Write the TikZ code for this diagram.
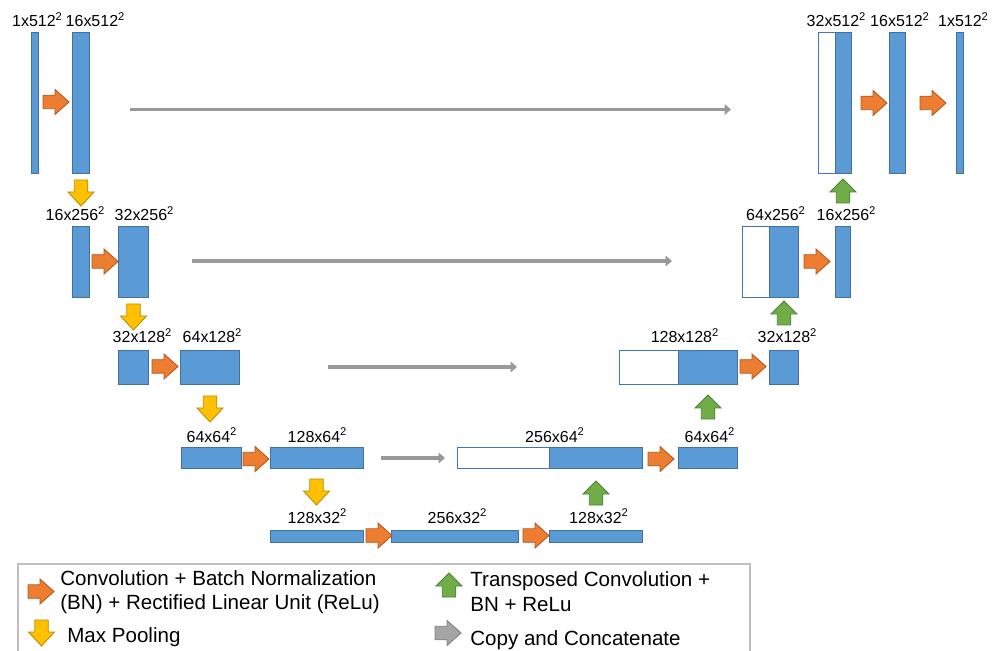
\documentclass[tikz,border=0pt]{standalone}
\usepackage{fontspec}
\setmainfont{Liberation Sans}
\usetikzlibrary{fit,arrows.meta}
\definecolor{blkfill}{HTML}{5B9BD5}
\definecolor{blkdraw}{HTML}{41719C}
\definecolor{catdraw}{HTML}{4472C4}
\definecolor{convfill}{HTML}{ED7D31}
\definecolor{convdraw}{HTML}{AE5A21}
\definecolor{poolfill}{HTML}{FFC000}
\definecolor{pooldraw}{HTML}{BC8C00}
\definecolor{upfill}{HTML}{70AD47}
\definecolor{updraw}{HTML}{507E32}
\definecolor{copyfill}{HTML}{A5A5A5}
\definecolor{copydraw}{HTML}{7F7F7F}
\definecolor{copymid}{HTML}{999999}
\definecolor{legdraw}{HTML}{BFBFBF}
\begin{document}
\begin{tikzpicture}[x=0.02cm,y=-0.02cm,
  blk/.style={draw=blkdraw,fill=blkfill,line width=0.5pt,inner sep=0pt},
  cat/.style={draw=catdraw,fill=white,line width=0.45pt,inner sep=0pt},
  lbl/.style={font=\fontsize{9.1}{11}\selectfont,anchor=base,inner sep=0pt},
  legtxt/.style={font=\fontsize{11.7}{13.7}\selectfont,anchor=base west,inner sep=0pt},
  convA/.style={fill=convfill,draw=convdraw,line width=0.5pt},
  poolA/.style={fill=poolfill,draw=pooldraw,line width=0.5pt},
  upA/.style={fill=upfill,draw=updraw,line width=0.5pt},
  copyA/.style={fill=copyfill,draw=copydraw,line width=0.5pt},
  copyline/.style={draw=copymid,line width=2.2pt,-{Triangle[length=3.6pt,width=6pt]}},
  legbox/.style={draw=legdraw,line width=0.7pt},
  rarr/.pic={\draw[#1] (0,-6.75)--(12,-6.75)--(12,-12.5)--(26,0)--(12,12.5)--(12,6.75)--(0,6.75)--cycle;},
  darr/.pic={\draw[#1] (-6.75,0)--(-6.75,12)--(-13,12)--(0,26)--(13,12)--(6.75,12)--(6.75,0)--cycle;},
  uarr/.pic={\draw[#1] (-6.75,0)--(-6.75,-11)--(-13,-11)--(0,-24)--(13,-11)--(6.75,-11)--(6.75,0)--cycle;}
]
\useasboundingbox (0,0) rectangle (1000,651);

% ---------- blocks ----------
% row 1
\node[blk,fit={(31,32)(38,173)}] (r1a) {};
\node[blk,fit={(72,32)(89,173)}] (r1b) {};
\node[cat,fit={(818,32)(835,173)}] (r1cw) {};
\node[blk,fit={(835,32)(851,173)}] (r1cb) {};
\node[blk,fit={(889,32)(905,173)}] (r1d) {};
\node[blk,fit={(956,32)(963,173)}] (r1e) {};
% row 2
\node[blk,fit={(72,226)(89,297)}] (r2a) {};
\node[blk,fit={(118,226)(148,297)}] (r2b) {};
\node[cat,fit={(742,226)(769,297)}] (r2cw) {};
\node[blk,fit={(769,226)(798,297)}] (r2cb) {};
\node[blk,fit={(835,226)(850,297)}] (r2d) {};
% row 3
\node[blk,fit={(118,350)(148,384)}] (r3a) {};
\node[blk,fit={(180,350)(239,384)}] (r3b) {};
\node[cat,fit={(619,350)(678,384)}] (r3cw) {};
\node[blk,fit={(678,350)(737,384)}] (r3cb) {};
\node[blk,fit={(769,350)(798,384)}] (r3d) {};
% row 4
\node[blk,fit={(181,447)(241,468)}] (r4a) {};
\node[blk,fit={(270,447)(363,468)}] (r4b) {};
\node[cat,fit={(457,447)(549,468)}] (r4cw) {};
\node[blk,fit={(549,447)(642,468)}] (r4cb) {};
\node[blk,fit={(678,447)(737,468)}] (r4d) {};
% row 5
\node[blk,fit={(270,530)(363,542)}] (r5a) {};
\node[blk,fit={(391,530)(518,542)}] (r5b) {};
\node[blk,fit={(549,530)(642,542)}] (r5c) {};

% ---------- labels ----------
\node[lbl] (l1a) at (37.5,27) {1x512\textsuperscript{2}};
\node[lbl] (l1b) at (95.5,27) {16x512\textsuperscript{2}};
\node[lbl] (l1c) at (836.5,27) {32x512\textsuperscript{2}};
\node[lbl] (l1d) at (900,27) {16x512\textsuperscript{2}};
\node[lbl] (l1e) at (963.5,27) {1x512\textsuperscript{2}};
\node[lbl] (l2a) at (75.5,221) {16x256\textsuperscript{2}};
\node[lbl] (l2b) at (144.5,221) {32x256\textsuperscript{2}};
\node[lbl] (l2c) at (776,221) {64x256\textsuperscript{2}};
\node[lbl] (l2d) at (846.5,221) {16x256\textsuperscript{2}};
\node[lbl] (l3a) at (142.5,343) {32x128\textsuperscript{2}};
\node[lbl] (l3b) at (212.5,343) {64x128\textsuperscript{2}};
\node[lbl] (l3c) at (685,343) {128x128\textsuperscript{2}};
\node[lbl] (l3d) at (787.5,343) {32x128\textsuperscript{2}};
\node[lbl] (l4a) at (212,442) {64x64\textsuperscript{2}};
\node[lbl] (l4b) at (317.5,442) {128x64\textsuperscript{2}};
\node[lbl] (l4c) at (555,442) {256x64\textsuperscript{2}};
\node[lbl] (l4d) at (710,442) {64x64\textsuperscript{2}};
\node[lbl] (l5a) at (317.5,523) {128x32\textsuperscript{2}};
\node[lbl] (l5b) at (457.5,523) {256x32\textsuperscript{2}};
\node[lbl] (l5c) at (599,523) {128x32\textsuperscript{2}};

% ---------- convolution arrows ----------
\pic at (43,102) {rarr=convA};
\pic at (861,103) {rarr=convA};
\pic at (920,103) {rarr=convA};
\pic at (92,261.5) {rarr=convA};
\pic at (804,261.5) {rarr=convA};
\pic at (152,366.5) {rarr=convA};
\pic at (740,366.5) {rarr=convA};
\pic at (243,459) {rarr=convA};
\pic at (648,459) {rarr=convA};
\pic at (366,535.5) {rarr=convA};
\pic at (523,535.5) {rarr=convA};

% ---------- max pooling arrows ----------
\pic at (81,180) {darr=poolA};
\pic at (133.5,304) {darr=poolA};
\pic at (210,396) {darr=poolA};
\pic at (316.5,479) {darr=poolA};

% ---------- transposed convolution arrows ----------
\pic at (596,505) {uarr=upA};
\pic at (708,419) {uarr=upA};
\pic at (784,325) {uarr=upA};
\pic at (843,203) {uarr=upA};

% ---------- copy and concatenate ----------
\coordinate (g1s) at (130,109.5);
\coordinate (g1e) at (731,109.5);
\coordinate (g2s) at (192,261);
\coordinate (g2e) at (672,261);
\coordinate (g3s) at (328,367);
\coordinate (g3e) at (517,367);
\coordinate (g4s) at (381,458);
\coordinate (g4e) at (445,458);
\draw[copyline] (g1s) -- (g1e);
\draw[copyline] (g2s) -- (g2e);
\draw[copyline] (g3s) -- (g3e);
\draw[copyline] (g4s) -- (g4e);

% ---------- legend ----------
\draw[legbox] (18,651) -- (18,564) -- (750,564) -- (750,651);
\pic at (28,591.5) {rarr=convA};
\pic at (41.5,620) {darr=poolA};
\pic at (449,597) {uarr=upA};
\pic at (435,633) {rarr=copyA};
\node[legtxt] (t1a) at (60,585) {Convolution + Batch Normalization};
\node[legtxt] (t1b) at (60,609) {(BN) + Rectified Linear Unit (ReLu)};
\node[legtxt] (t2) at (67,642) {Max Pooling};
\node[legtxt] (t3a) at (470,586) {Transposed Convolution +};
\node[legtxt] (t3b) at (470,611) {BN + ReLu};
\node[legtxt] (t4) at (470,645) {Copy and Concatenate};
\end{tikzpicture}
\end{document}
